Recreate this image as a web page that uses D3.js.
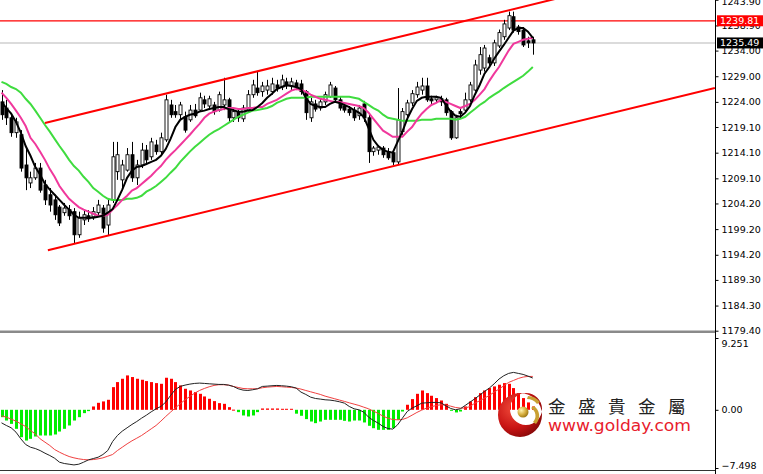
<!DOCTYPE html>
<html><head><meta charset="utf-8">
<script src="https://cdn.jsdelivr.net/npm/d3@7/dist/d3.min.js"></script>
<style>html,body{margin:0;padding:0;background:#fff;}svg{display:block;}</style>
</head><body>
<svg id="c" width="763" height="474"></svg>
<script>
// ---------- DATA ----------
const opens = [1224.0,1222.8,1220.9,1218.0,1217.6,1211.7,1208.2,1209.2,1211.1,1207.8,
1205.9,1204.9,1203.5,1202.4,1203.0,1202.6,1198.1,1201.0,1201.8,1201.6,
1202.4,1203.3,1200.0,1204.9,1210.4,1208.8,1210.7,1213.7,1209.2,1211.7,
1214.6,1213.3,1215.6,1214.3,1216.6,1223.4,1222.1,1221.5,1221.1,1220.5,
1222.4,1222.4,1224.4,1223.2,1223.4,1222.4,1223.4,1224.4,1220.9,1222.1,
1220.7,1222.4,1225.4,1226.7,1226.0,1226.3,1226.0,1227.3,1226.9,1227.9,
1227.1,1227.7,1227.5,1226.0,1220.9,1223.6,1222.8,1224.0,1225.0,1226.7,
1224.4,1223.2,1222.6,1222.4,1221.3,1223.6,1220.9,1214.3,1214.6,1215.0,
1214.3,1214.1,1212.3,1218.2,1221.5,1223.8,1225.4,1226.3,1227.1,1224.6,
1224.4,1224.6,1224.4,1222.1,1217.0,1222.1,1222.4,1224.4,1226.3,1230.2,
1230.6,1232.6,1231.6,1234.9,1236.7,1238.4,1240.6,1238.6,1238.0,1235.9,1236.1];
const closes = [1221.5,1220.9,1218.0,1220.1,1211.1,1209.2,1209.2,1211.1,1206.8,1204.9,
1203.9,1202.0,1200.4,1203.3,1201.8,1198.1,1201.4,1202.0,1201.2,1202.6,
1203.9,1199.4,1203.9,1213.3,1213.7,1211.7,1213.7,1209.2,1211.7,1214.6,
1212.7,1216.2,1214.3,1217.0,1224.4,1221.5,1221.5,1223.4,1218.5,1222.4,
1221.3,1224.8,1223.6,1224.6,1222.1,1225.4,1224.4,1220.9,1222.1,1220.9,
1222.8,1225.4,1227.3,1225.8,1227.1,1227.1,1227.5,1226.7,1228.3,1227.1,
1227.9,1226.9,1226.0,1221.9,1224.0,1222.6,1224.0,1225.4,1227.3,1224.4,
1222.8,1222.4,1221.9,1220.9,1222.8,1220.9,1214.3,1215.0,1215.2,1213.7,
1213.1,1212.3,1220.5,1222.1,1223.8,1225.6,1226.9,1227.1,1224.4,1224.2,
1224.8,1224.0,1221.9,1217.0,1220.9,1221.7,1224.4,1227.3,1231.2,1233.2,
1234.5,1231.6,1235.5,1237.5,1239.2,1240.8,1238.0,1237.7,1235.1,1235.5,1235.49];
const highs = [1226.3,1224.4,1221.5,1220.9,1218.5,1215.0,1210.4,1212.1,1212.1,1208.8,
1207.2,1205.9,1203.9,1204.3,1203.9,1203.3,1202.6,1202.9,1202.9,1203.5,
1204.9,1203.9,1204.9,1216.2,1216.2,1212.7,1215.0,1216.2,1212.7,1216.0,
1215.6,1217.0,1216.6,1218.0,1225.4,1224.4,1223.4,1224.0,1222.1,1223.4,
1223.6,1225.8,1225.2,1225.2,1224.0,1226.0,1228.7,1224.8,1222.8,1222.8,
1223.4,1226.3,1228.3,1229.9,1227.9,1228.3,1228.7,1228.3,1229.3,1228.7,
1228.7,1228.3,1228.3,1226.3,1224.8,1224.4,1224.6,1226.0,1227.9,1227.1,
1225.0,1223.6,1223.2,1223.0,1223.4,1224.2,1221.5,1215.4,1215.6,1215.4,
1215.0,1214.6,1226.7,1222.8,1224.4,1226.3,1227.9,1228.7,1228.7,1225.2,
1225.2,1225.2,1224.8,1222.4,1221.5,1223.0,1225.8,1227.9,1232.2,1234.7,
1235.1,1233.2,1236.1,1238.1,1240.0,1241.6,1241.6,1239.0,1238.6,1236.7,1236.7];
const lows = [1220.5,1219.5,1217.2,1217.0,1210.4,1206.8,1207.2,1208.8,1206.3,1203.9,
1202.6,1201.0,1199.8,1201.8,1201.0,1196.3,1197.5,1200.0,1200.6,1201.0,
1201.8,1198.5,1197.9,1204.3,1208.8,1206.8,1210.4,1208.4,1207.8,1211.1,
1211.7,1212.7,1213.7,1213.7,1216.2,1220.9,1220.9,1220.5,1218.0,1220.1,
1220.9,1222.1,1222.8,1222.4,1221.5,1222.1,1222.4,1220.1,1220.1,1220.1,
1220.1,1222.1,1224.8,1225.2,1225.0,1225.4,1225.4,1226.0,1226.3,1226.5,
1226.3,1226.3,1225.4,1220.5,1220.1,1222.1,1222.3,1223.4,1224.8,1224.0,
1222.3,1221.9,1221.3,1220.3,1220.5,1220.1,1212.1,1213.5,1213.7,1213.1,
1212.7,1211.7,1211.7,1217.6,1220.9,1223.2,1224.8,1225.4,1224.0,1223.6,
1223.8,1223.2,1221.3,1216.6,1216.8,1220.9,1222.1,1224.0,1226.0,1229.3,
1229.9,1231.0,1231.0,1234.5,1236.1,1238.0,1237.5,1237.1,1234.7,1234.5,1233.2];

const maFast = [1224.0,1222.8,1221.7,1220.1,1218.0,1215.4,1213.5,1211.3,1209.8,1208.0,
1206.9,1205.9,1204.9,1203.9,1203.0,1202.0,1201.4,1201.4,1201.4,1201.4,
1201.6,1201.8,1202.4,1203.1,1204.9,1206.9,1209.2,1210.6,1211.3,1211.5,
1211.9,1212.3,1212.7,1213.5,1214.8,1216.8,1219.1,1220.5,1221.1,1221.5,
1221.7,1222.1,1222.3,1222.6,1222.8,1223.0,1223.0,1222.6,1222.4,1222.1,
1222.1,1222.3,1222.4,1223.0,1223.8,1224.8,1225.6,1226.5,1226.9,1227.3,
1227.1,1226.9,1226.5,1224.8,1223.6,1223.2,1223.0,1223.0,1223.6,1224.0,
1223.8,1223.4,1223.0,1222.4,1221.9,1221.1,1218.9,1216.6,1215.4,1214.6,
1214.3,1214.1,1216.2,1218.2,1220.7,1222.6,1224.2,1224.8,1225.0,1225.0,
1225.0,1224.8,1223.4,1222.1,1221.3,1221.1,1221.9,1223.2,1225.4,1227.3,
1229.5,1230.8,1232.4,1233.8,1235.1,1236.5,1237.9,1238.4,1238.4,1237.7,1236.5];
const maMid = [1225.8,1224.8,1223.6,1222.3,1220.9,1219.3,1217.0,1215.8,1214.3,1212.7,
1210.9,1209.4,1207.6,1206.3,1205.1,1204.3,1203.5,1203.0,1202.6,1202.2,
1201.8,1201.8,1202.0,1203.0,1203.9,1204.9,1205.7,1206.7,1207.2,1208.0,
1208.8,1209.6,1210.6,1211.5,1212.7,1213.7,1214.6,1215.6,1216.6,1217.6,
1218.7,1219.7,1220.9,1221.7,1222.1,1222.4,1222.6,1222.8,1222.8,1222.6,
1222.6,1222.8,1222.8,1223.0,1223.0,1223.6,1224.0,1224.4,1225.0,1225.6,
1226.2,1226.5,1226.3,1226.0,1225.4,1225.0,1224.6,1224.4,1224.2,1224.0,
1224.0,1223.8,1223.6,1223.4,1223.2,1222.8,1221.9,1220.7,1219.5,1218.4,
1217.8,1217.2,1217.2,1217.2,1218.2,1219.1,1220.5,1221.7,1222.6,1223.4,
1223.8,1224.4,1224.0,1223.6,1223.2,1222.8,1223.2,1223.6,1224.4,1225.4,
1226.5,1228.1,1229.5,1230.8,1232.4,1234.0,1235.3,1235.7,1236.1,1236.3,1236.5];
const maSlow = [1227.9,1227.5,1226.9,1226.5,1225.8,1224.6,1223.6,1222.3,1220.9,1219.5,
1218.2,1216.8,1215.4,1214.1,1212.7,1211.5,1210.6,1209.4,1208.4,1207.2,
1206.5,1205.7,1205.1,1204.9,1204.9,1204.9,1205.1,1205.1,1205.3,1205.7,
1206.5,1207.0,1207.6,1208.4,1209.2,1210.2,1211.1,1212.3,1213.3,1214.3,
1215.2,1216.0,1216.8,1217.6,1218.2,1218.7,1219.3,1219.9,1220.5,1221.1,
1221.5,1221.9,1222.3,1222.4,1222.6,1222.8,1223.2,1223.8,1224.2,1224.6,
1224.8,1224.8,1224.8,1224.8,1225.0,1225.0,1225.0,1225.0,1225.0,1225.0,
1225.0,1225.0,1225.0,1224.8,1224.6,1224.0,1223.4,1222.8,1222.3,1221.5,
1220.9,1220.7,1220.5,1220.3,1220.3,1220.3,1220.3,1220.5,1220.5,1220.5,
1220.7,1220.7,1220.7,1220.7,1220.5,1220.7,1221.1,1221.9,1222.6,1223.4,
1224.0,1224.8,1225.4,1226.0,1226.7,1227.3,1227.9,1228.5,1229.1,1229.9,1230.8];

const macdHist = [-0.95,-1.38,-1.81,-2.45,-3.53,-3.96,-3.74,-3.44,-3.31,-3.31,
-3.31,-3.18,-2.80,-2.45,-2.02,-1.38,-0.95,-0.43,-0.17,0.43,
0.90,1.08,1.29,2.92,3.57,4.00,4.43,4.22,4.00,3.87,
3.70,3.57,3.44,3.35,4.13,4.00,3.57,3.14,2.71,2.49,
2.28,2.06,1.72,1.42,1.12,0.86,0.77,0.34,0.02,-0.30,
-0.73,-0.86,-0.73,-0.30,0.17,0.17,0.17,0.17,0.13,0.13,
0.13,-0.50,-0.77,-1.20,-1.51,-1.72,-1.51,-1.29,-1.29,-1.29,
-1.29,-1.42,-1.51,-1.38,-1.38,-1.63,-2.06,-2.37,-2.58,-2.58,
-2.58,-2.37,-1.29,-0.22,0.65,1.38,2.06,2.49,2.15,1.81,
1.51,1.20,0.77,-0.09,-0.34,-0.22,0.43,1.08,1.63,2.15,
2.49,2.80,3.01,3.23,3.44,3.35,2.80,2.15,1.51,0.95,0.43];
const macdMain = [-1.68,-2.02,-2.32,-2.88,-3.74,-4.47,-4.82,-4.99,-5.25,-5.59,
-5.89,-6.24,-6.75,-6.92,-7.01,-7.10,-7.01,-6.75,-6.45,-6.28,
-6.11,-5.76,-5.25,-4.09,-3.31,-2.75,-2.32,-1.89,-1.51,-1.08,
-0.69,-0.26,0.13,0.43,0.99,1.85,2.62,3.01,3.18,3.31,
3.40,3.44,3.40,3.35,3.31,3.27,3.27,3.18,3.01,2.71,
2.54,2.49,2.58,2.71,3.01,3.05,3.10,3.14,3.10,3.05,
2.97,2.80,2.28,1.98,1.63,1.46,1.38,1.29,1.25,1.16,
1.03,0.86,0.43,0.13,0.00,-0.30,-0.95,-1.38,-1.72,-2.15,
-2.41,-2.49,-1.94,-1.08,-0.22,0.22,0.52,0.86,0.90,0.95,
0.95,0.90,0.52,0.17,0.00,0.13,0.56,0.99,1.42,1.89,
2.37,2.80,3.35,3.96,4.39,4.69,4.82,4.69,4.56,4.34,4.09];
const macdSignal = [-0.77,-0.95,-1.20,-1.46,-1.81,-2.15,-2.67,-3.10,-3.74,-4.17,
-4.60,-5.12,-5.46,-5.76,-6.02,-6.19,-6.32,-6.41,-6.45,-6.41,
-6.32,-6.19,-5.98,-5.76,-5.25,-4.82,-4.39,-4.00,-3.66,-3.31,
-2.88,-2.45,-2.02,-1.46,-0.86,-0.30,0.26,0.77,1.29,1.72,
2.15,2.49,2.75,2.97,3.14,3.23,3.23,3.18,3.01,2.88,
2.75,2.71,2.71,2.71,2.84,2.92,2.97,3.01,2.97,2.92,
2.88,2.80,2.67,2.49,2.32,2.15,1.98,1.76,1.59,1.42,
1.25,1.08,0.90,0.73,0.56,0.34,0.13,-0.17,-0.47,-0.82,
-1.08,-1.25,-1.29,-1.25,-1.03,-0.69,-0.34,-0.04,0.22,0.39,
0.56,0.65,0.60,0.47,0.30,0.22,0.22,0.43,0.86,1.16,
1.51,1.85,2.28,2.67,3.10,3.53,3.78,4.04,4.22,4.30,4.30];

// trend channel (bar index, price) and horizontal levels
const channelUpper = [[9, 1219.9], [148, 1251.7]];
const channelLower = [[9.6, 1195.1], [147.7, 1226.7]];
const resistanceLevel = 1239.81;
const bidLevel = 1235.49;

const priceTicks = [1243.90,1238.90,1234.00,1229.00,1224.00,1219.10,1214.10,1209.10,1204.20,1199.20,1194.20,1189.30,1184.30,1179.40];
const macdTicks = [9.251, 0.00, -7.498];
const logoName = "金盛貴金屬";
const logoUrl = "www.golday.com";

// ---------- DRAW ----------
const svg = d3.select("#c");
const AX = 715;
const N = closes.length;
const x = d3.scaleLinear().domain([0, N - 1]).range([1.5, 532.8]);
const y = d3.scaleLinear().domain([1179.4, 1243.86]).range([330.7, 0]);
const ym = d3.scaleLinear().domain([-7.498, 9.251]).range([468, 338]);

svg.append("rect").attr("width", 763).attr("height", 474).attr("fill", "#fff");
const defs = svg.append("defs");
defs.append("clipPath").attr("id", "mainClip").append("rect").attr("x", 0).attr("y", 0).attr("width", AX).attr("height", 330);
defs.append("clipPath").attr("id", "subClip").append("rect").attr("x", 0).attr("y", 333).attr("width", AX).attr("height", 137);

const main = svg.append("g").attr("clip-path", "url(#mainClip)");

// horizontal levels
main.append("line").attr("x1", 0).attr("x2", AX).attr("y1", y(bidLevel)).attr("y2", y(bidLevel))
  .attr("stroke", "#cfcfcf").attr("stroke-width", 1.5);
main.append("line").attr("x1", 0).attr("x2", AX).attr("y1", y(resistanceLevel)).attr("y2", y(resistanceLevel))
  .attr("stroke", "#ff0000").attr("stroke-width", 1.3);

// candles
const idx = d3.range(N);
const cg = main.append("g");
cg.selectAll("line.w").data(idx).join("line")
  .attr("x1", i => Math.round(x(i)) + 0.5).attr("x2", i => Math.round(x(i)) + 0.5)
  .attr("y1", i => y(highs[i])).attr("y2", i => y(lows[i]))
  .attr("stroke", "#000").attr("stroke-width", 1);
cg.selectAll("rect.b").data(idx).join("rect")
  .attr("x", i => Math.round(x(i)) - 1)
  .attr("width", 3)
  .attr("y", i => y(Math.max(opens[i], closes[i])))
  .attr("height", i => Math.max(1, Math.abs(y(opens[i]) - y(closes[i]))))
  .attr("fill", i => closes[i] >= opens[i] ? "#fff" : "#000")
  .attr("stroke", "#000").attr("stroke-width", 0.9);

// moving averages
const lineP = d3.line().x((d, i) => x(i)).y(d => y(d));
main.append("path").attr("d", lineP(maSlow)).attr("fill", "none").attr("stroke", "#3fdc3f").attr("stroke-width", 2);
main.append("path").attr("d", lineP(maMid)).attr("fill", "none").attr("stroke", "#f0389c").attr("stroke-width", 2);
main.append("path").attr("d", lineP(maFast)).attr("fill", "none").attr("stroke", "#000").attr("stroke-width", 2);

// channel
const lineC = d3.line().x(d => x(d[0])).y(d => y(d[1]));
main.append("path").attr("d", lineC(channelUpper)).attr("stroke", "#ff0000").attr("stroke-width", 2).attr("fill", "none");
main.append("path").attr("d", lineC(channelLower)).attr("stroke", "#ff0000").attr("stroke-width", 2).attr("fill", "none");

// panel separators
svg.append("rect").attr("x", 0).attr("y", 330.5).attr("width", AX).attr("height", 2.5).attr("fill", "#8a8a8a");
svg.append("line").attr("x1", 0).attr("x2", AX).attr("y1", 470.5).attr("y2", 470.5).attr("stroke", "#333").attr("stroke-width", 1.2);

// MACD panel
const sub = svg.append("g").attr("clip-path", "url(#subClip)");
sub.selectAll("rect.h").data(idx).join("rect")
  .attr("x", i => Math.round(x(i)) - 1)
  .attr("width", 3)
  .attr("y", i => Math.min(ym(0), ym(macdHist[i])))
  .attr("height", i => Math.max(1, Math.abs(ym(macdHist[i]) - ym(0))))
  .attr("fill", i => macdHist[i] >= 0 ? "#ff0000" : "#00ee00");
const lineM = d3.line().x((d, i) => x(i)).y(d => ym(d));
sub.append("path").attr("d", lineM(macdSignal)).attr("fill", "none").attr("stroke", "#f04040").attr("stroke-width", 1);
sub.append("path").attr("d", lineM(macdMain)).attr("fill", "none").attr("stroke", "#222").attr("stroke-width", 1);

// axes
svg.append("line").attr("x1", AX + 0.5).attr("x2", AX + 0.5).attr("y1", 0).attr("y2", 474).attr("stroke", "#000").attr("stroke-width", 1);
const fontFam = "DejaVu Sans, Verdana, sans-serif";
const ax1 = svg.append("g").attr("transform", `translate(${AX + 0.5},0)`)
  .call(d3.axisRight(y).tickValues(priceTicks).tickFormat(d3.format(".2f")).tickSize(3).tickPadding(3));
const ax2 = svg.append("g").attr("transform", `translate(${AX + 0.5},0)`)
  .call(d3.axisRight(ym).tickValues(macdTicks).tickFormat(d => d === 0 ? "0.00" : d3.format(".3f")(d)).tickSize(3).tickPadding(3));
[ax1, ax2].forEach(a => {
  a.select(".domain").remove();
  a.selectAll("text").attr("font-family", fontFam).attr("font-size", 9.5).attr("fill", "#000");
  a.selectAll("line").attr("stroke", "#000");
});
ax1.selectAll(".tick").filter(d => d === 1243.90).select("text").attr("dy", "0.5em");
ax2.selectAll(".tick").filter(d => d === 9.251).select("text").attr("dy", "0.9em");
ax2.selectAll(".tick").filter(d => d === -7.498).select("text").attr("dy", "0.05em");

// price boxes
function priceBox(v, bg) {
  const yy = y(v);
  svg.append("rect").attr("x", AX + 2).attr("y", yy - 5.5).attr("width", 763 - AX - 2).attr("height", 11).attr("fill", bg);
  svg.append("text").attr("x", AX + 5).attr("y", yy).attr("dy", "0.35em").attr("fill", "#fff")
    .attr("font-family", fontFam).attr("font-size", 9.5).text(d3.format(".2f")(v));
}
priceBox(resistanceLevel, "#ff0000");
priceBox(bidLevel, "#000");

// logo emblem
const lg = svg.append("g");
const rg = defs.append("radialGradient").attr("id", "redG").attr("cx", "35%").attr("cy", "35%").attr("r", "75%");
rg.append("stop").attr("offset", "0%").attr("stop-color", "#f04a3a");
rg.append("stop").attr("offset", "60%").attr("stop-color", "#c81414");
rg.append("stop").attr("offset", "100%").attr("stop-color", "#7d0606");
const gg = defs.append("radialGradient").attr("id", "goldG").attr("cx", "35%").attr("cy", "35%").attr("r", "70%");
gg.append("stop").attr("offset", "0%").attr("stop-color", "#fff3b0");
gg.append("stop").attr("offset", "55%").attr("stop-color", "#d8b040");
gg.append("stop").attr("offset", "100%").attr("stop-color", "#9a7410");
const cx0 = 520, cy0 = 415, r0 = 22, cx1 = 526, cy1 = 409, r1 = 16;
const ring = `M${cx0 - r0},${cy0} a${r0},${r0} 0 1,0 ${2 * r0},0 a${r0},${r0} 0 1,0 ${-2 * r0},0 Z ` +
  `M${cx1 - r1},${cy1} a${r1},${r1} 0 1,1 ${2 * r1},0 a${r1},${r1} 0 1,1 ${-2 * r1},0 Z`;
lg.append("path").attr("d", ring).attr("fill", "url(#redG)").attr("fill-rule", "evenodd");
lg.append("circle").attr("cx", 523).attr("cy", 412).attr("r", 5.5).attr("fill", "url(#goldG)");
lg.append("path").attr("d", "M534,406 A12,12 0 0,1 536,424 L533,422 A9,9 0 0,0 531,408 Z").attr("fill", "#c9a032");
lg.append("path").attr("d", "M528,396 A16,16 0 0,1 540,402 L537,404 A13,13 0 0,0 527,399 Z").attr("fill", "#c9a032");

svg.append("text").attr("x", 548).attr("y", 413).attr("font-family", "Noto Sans CJK TC, Noto Sans CJK SC, sans-serif")
  .attr("font-size", 17.5).attr("letter-spacing", 12.5).attr("fill", "#222").text(logoName);
svg.append("text").attr("x", 548).attr("y", 431).attr("font-family", fontFam)
  .attr("font-size", 16).attr("fill", "#e8202c").attr("textLength", 143).attr("lengthAdjust", "spacingAndGlyphs").text(logoUrl);
</script>
</body></html>
